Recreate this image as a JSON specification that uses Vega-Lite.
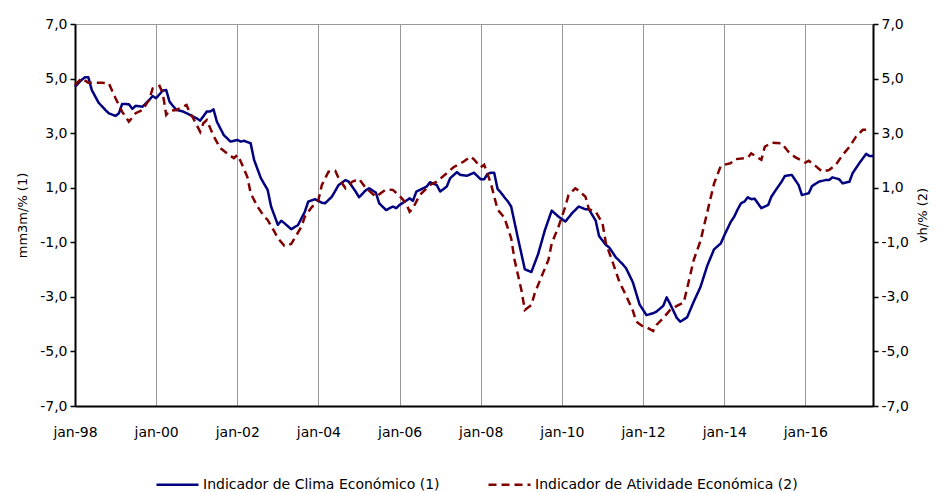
{
  "$schema": "https://vega.github.io/schema/vega-lite/v6.json",
  "width": 798,
  "height": 382,
  "autosize": {"type": "none"},
  "padding": {"left": 75, "top": 24, "right": 67, "bottom": 86},
  "background": "white",
  "title": {"text": "Indicadores de Síntese Económica", "anchor": "middle", "offset": 20, "baseline": "alphabetic", "fontSize": 17, "fontWeight": "bold", "color": "#3333cc", "font": "DejaVu Sans", "dx": 15},
  "config": {
    "view": {"stroke": "#999999", "strokeWidth": 1},
    "font": "DejaVu Sans",
    "axis": {"labelFont": "DejaVu Sans", "titleFont": "DejaVu Sans", "labelColor": "#000", "titleColor": "#000"}
  },
  "datasets": {
    "clima": [
      {"d": "1998-01", "v": 4.70}, {"d": "1998-03", "v": 4.95}, {"d": "1998-04", "v": 5.05}, {"d": "1998-05", "v": 5.05},
      {"d": "1998-06", "v": 4.58}, {"d": "1998-08", "v": 4.12}, {"d": "1998-10", "v": 3.85}, {"d": "1998-11", "v": 3.73},
      {"d": "1999-01", "v": 3.63}, {"d": "1999-02", "v": 3.73}, {"d": "1999-03", "v": 4.07}, {"d": "1999-05", "v": 4.06},
      {"d": "1999-06", "v": 3.89}, {"d": "1999-07", "v": 4.00}, {"d": "1999-09", "v": 3.97}, {"d": "1999-11", "v": 4.22},
      {"d": "1999-12", "v": 4.36}, {"d": "2000-01", "v": 4.28}, {"d": "2000-03", "v": 4.56}, {"d": "2000-04", "v": 4.58},
      {"d": "2000-05", "v": 4.15}, {"d": "2000-07", "v": 3.85}, {"d": "2000-09", "v": 3.79}, {"d": "2000-11", "v": 3.67},
      {"d": "2001-01", "v": 3.54}, {"d": "2001-02", "v": 3.46}, {"d": "2001-04", "v": 3.79}, {"d": "2001-05", "v": 3.79},
      {"d": "2001-06", "v": 3.87}, {"d": "2001-07", "v": 3.42}, {"d": "2001-09", "v": 2.93}, {"d": "2001-11", "v": 2.69},
      {"d": "2002-01", "v": 2.75}, {"d": "2002-02", "v": 2.69}, {"d": "2002-03", "v": 2.72}, {"d": "2002-05", "v": 2.63},
      {"d": "2002-06", "v": 2.02}, {"d": "2002-08", "v": 1.35}, {"d": "2002-10", "v": 0.92}, {"d": "2002-11", "v": 0.31},
      {"d": "2003-01", "v": -0.36}, {"d": "2003-02", "v": -0.21}, {"d": "2003-03", "v": -0.30}, {"d": "2003-05", "v": -0.52},
      {"d": "2003-07", "v": -0.37}, {"d": "2003-09", "v": 0.12}, {"d": "2003-10", "v": 0.49}, {"d": "2003-12", "v": 0.58},
      {"d": "2004-02", "v": 0.45}, {"d": "2004-03", "v": 0.43}, {"d": "2004-05", "v": 0.67}, {"d": "2004-07", "v": 1.10},
      {"d": "2004-09", "v": 1.28}, {"d": "2004-10", "v": 1.22}, {"d": "2004-12", "v": 0.86}, {"d": "2005-01", "v": 0.65},
      {"d": "2005-03", "v": 0.90}, {"d": "2005-04", "v": 0.98}, {"d": "2005-06", "v": 0.82}, {"d": "2005-07", "v": 0.43},
      {"d": "2005-09", "v": 0.18}, {"d": "2005-11", "v": 0.31}, {"d": "2005-12", "v": 0.25}, {"d": "2006-01", "v": 0.37},
      {"d": "2006-03", "v": 0.52}, {"d": "2006-04", "v": 0.61}, {"d": "2006-05", "v": 0.52}, {"d": "2006-06", "v": 0.86},
      {"d": "2006-09", "v": 1.04}, {"d": "2006-10", "v": 1.20}, {"d": "2006-12", "v": 1.10}, {"d": "2007-01", "v": 0.86},
      {"d": "2007-03", "v": 1.04}, {"d": "2007-04", "v": 1.35}, {"d": "2007-06", "v": 1.57}, {"d": "2007-07", "v": 1.47},
      {"d": "2007-09", "v": 1.44}, {"d": "2007-11", "v": 1.55}, {"d": "2007-12", "v": 1.43}, {"d": "2008-01", "v": 1.31},
      {"d": "2008-02", "v": 1.31}, {"d": "2008-03", "v": 1.50}, {"d": "2008-04", "v": 1.55}, {"d": "2008-05", "v": 1.55},
      {"d": "2008-06", "v": 0.95}, {"d": "2008-07", "v": 0.82}, {"d": "2008-08", "v": 0.65}, {"d": "2008-09", "v": 0.50},
      {"d": "2008-10", "v": 0.31}, {"d": "2008-12", "v": -0.85}, {"d": "2009-02", "v": -1.99}, {"d": "2009-04", "v": -2.09},
      {"d": "2009-06", "v": -1.43}, {"d": "2009-08", "v": -0.55}, {"d": "2009-10", "v": 0.16}, {"d": "2009-12", "v": -0.06},
      {"d": "2010-02", "v": -0.24}, {"d": "2010-04", "v": 0.06}, {"d": "2010-06", "v": 0.31}, {"d": "2010-08", "v": 0.21},
      {"d": "2010-09", "v": 0.21}, {"d": "2010-11", "v": -0.21}, {"d": "2010-12", "v": -0.77}, {"d": "2011-02", "v": -1.10},
      {"d": "2011-03", "v": -1.18}, {"d": "2011-05", "v": -1.55}, {"d": "2011-07", "v": -1.80}, {"d": "2011-08", "v": -1.95},
      {"d": "2011-10", "v": -2.46}, {"d": "2011-12", "v": -3.28}, {"d": "2012-02", "v": -3.67}, {"d": "2012-04", "v": -3.60},
      {"d": "2012-05", "v": -3.54}, {"d": "2012-07", "v": -3.33}, {"d": "2012-08", "v": -3.02}, {"d": "2012-09", "v": -3.26},
      {"d": "2012-11", "v": -3.78}, {"d": "2012-12", "v": -3.91}, {"d": "2013-02", "v": -3.75}, {"d": "2013-04", "v": -3.18},
      {"d": "2013-06", "v": -2.64}, {"d": "2013-08", "v": -1.86}, {"d": "2013-10", "v": -1.26}, {"d": "2013-12", "v": -1.04},
      {"d": "2014-01", "v": -0.75}, {"d": "2014-03", "v": -0.25}, {"d": "2014-04", "v": -0.06}, {"d": "2014-05", "v": 0.20},
      {"d": "2014-06", "v": 0.43}, {"d": "2014-07", "v": 0.49}, {"d": "2014-08", "v": 0.65}, {"d": "2014-09", "v": 0.58},
      {"d": "2014-10", "v": 0.60}, {"d": "2014-12", "v": 0.25}, {"d": "2015-02", "v": 0.37}, {"d": "2015-03", "v": 0.67},
      {"d": "2015-04", "v": 0.86}, {"d": "2015-06", "v": 1.22}, {"d": "2015-07", "v": 1.43}, {"d": "2015-09", "v": 1.47},
      {"d": "2015-11", "v": 1.10}, {"d": "2015-12", "v": 0.73}, {"d": "2016-02", "v": 0.80}, {"d": "2016-03", "v": 1.06},
      {"d": "2016-05", "v": 1.22}, {"d": "2016-07", "v": 1.28}, {"d": "2016-08", "v": 1.28}, {"d": "2016-09", "v": 1.38},
      {"d": "2016-11", "v": 1.31}, {"d": "2016-12", "v": 1.16}, {"d": "2017-02", "v": 1.22}, {"d": "2017-03", "v": 1.53},
      {"d": "2017-05", "v": 1.90}, {"d": "2017-07", "v": 2.24}, {"d": "2017-08", "v": 2.16}, {"d": "2017-09", "v": 2.16}
    ],
    "atividade": [
      {"d": "1998-01", "v": 4.76}, {"d": "1998-03", "v": 5.01}, {"d": "1998-05", "v": 4.85}, {"d": "1998-09", "v": 4.85},
      {"d": "1998-11", "v": 4.83}, {"d": "1999-01", "v": 4.28}, {"d": "1999-03", "v": 3.79}, {"d": "1999-05", "v": 3.42},
      {"d": "1999-07", "v": 3.73}, {"d": "1999-09", "v": 3.85}, {"d": "1999-11", "v": 4.24}, {"d": "1999-12", "v": 4.64},
      {"d": "2000-02", "v": 4.73}, {"d": "2000-03", "v": 4.46}, {"d": "2000-04", "v": 3.67}, {"d": "2000-05", "v": 3.82},
      {"d": "2000-07", "v": 3.85}, {"d": "2000-09", "v": 3.97}, {"d": "2000-10", "v": 4.03}, {"d": "2000-11", "v": 3.73},
      {"d": "2000-12", "v": 3.54}, {"d": "2001-02", "v": 3.05}, {"d": "2001-03", "v": 3.36}, {"d": "2001-04", "v": 3.48},
      {"d": "2001-06", "v": 2.90}, {"d": "2001-08", "v": 2.45}, {"d": "2001-10", "v": 2.26}, {"d": "2001-12", "v": 2.08},
      {"d": "2002-01", "v": 2.20}, {"d": "2002-02", "v": 1.96}, {"d": "2002-04", "v": 1.40}, {"d": "2002-05", "v": 0.80},
      {"d": "2002-07", "v": 0.31}, {"d": "2002-09", "v": -0.06}, {"d": "2002-10", "v": -0.18}, {"d": "2002-12", "v": -0.61},
      {"d": "2003-01", "v": -0.85}, {"d": "2003-03", "v": -1.13}, {"d": "2003-05", "v": -1.06}, {"d": "2003-06", "v": -0.85},
      {"d": "2003-08", "v": -0.43}, {"d": "2003-09", "v": -0.06}, {"d": "2003-11", "v": 0.28}, {"d": "2004-01", "v": 0.55},
      {"d": "2004-02", "v": 1.10}, {"d": "2004-04", "v": 1.59}, {"d": "2004-06", "v": 1.62}, {"d": "2004-07", "v": 1.35},
      {"d": "2004-09", "v": 0.98}, {"d": "2004-11", "v": 1.22}, {"d": "2005-01", "v": 1.32}, {"d": "2005-03", "v": 1.00},
      {"d": "2005-06", "v": 0.67}, {"d": "2005-09", "v": 0.94}, {"d": "2005-11", "v": 0.92}, {"d": "2006-01", "v": 0.70},
      {"d": "2006-03", "v": 0.43}, {"d": "2006-04", "v": 0.12}, {"d": "2006-05", "v": 0.25}, {"d": "2006-07", "v": 0.73},
      {"d": "2006-10", "v": 1.10}, {"d": "2006-12", "v": 1.22}, {"d": "2007-03", "v": 1.53}, {"d": "2007-05", "v": 1.75},
      {"d": "2007-08", "v": 1.96}, {"d": "2007-10", "v": 2.14}, {"d": "2007-11", "v": 2.04}, {"d": "2008-01", "v": 1.75},
      {"d": "2008-02", "v": 1.84}, {"d": "2008-04", "v": 1.16}, {"d": "2008-06", "v": 0.20}, {"d": "2008-08", "v": -0.10},
      {"d": "2008-10", "v": -0.85}, {"d": "2008-11", "v": -1.65}, {"d": "2009-01", "v": -2.75}, {"d": "2009-02", "v": -3.48},
      {"d": "2009-04", "v": -3.30}, {"d": "2009-05", "v": -2.87}, {"d": "2009-07", "v": -2.26}, {"d": "2009-09", "v": -1.65},
      {"d": "2009-10", "v": -1.04}, {"d": "2009-12", "v": -0.43}, {"d": "2010-02", "v": 0.31}, {"d": "2010-03", "v": 0.73},
      {"d": "2010-05", "v": 0.98}, {"d": "2010-06", "v": 0.89}, {"d": "2010-08", "v": 0.67}, {"d": "2010-09", "v": 0.21},
      {"d": "2010-11", "v": 0.12}, {"d": "2011-01", "v": -0.30}, {"d": "2011-02", "v": -1.04}, {"d": "2011-04", "v": -1.71},
      {"d": "2011-06", "v": -2.44}, {"d": "2011-08", "v": -2.95}, {"d": "2011-10", "v": -3.50}, {"d": "2011-11", "v": -3.91},
      {"d": "2012-01", "v": -4.09}, {"d": "2012-02", "v": -4.11}, {"d": "2012-04", "v": -4.25}, {"d": "2012-05", "v": -4.03},
      {"d": "2012-07", "v": -3.78}, {"d": "2012-09", "v": -3.48}, {"d": "2012-11", "v": -3.33}, {"d": "2013-01", "v": -3.21},
      {"d": "2013-02", "v": -2.69}, {"d": "2013-04", "v": -1.65}, {"d": "2013-06", "v": -0.95}, {"d": "2013-08", "v": 0.10},
      {"d": "2013-10", "v": 1.15}, {"d": "2013-12", "v": 1.80}, {"d": "2014-01", "v": 1.84}, {"d": "2014-03", "v": 1.90},
      {"d": "2014-04", "v": 2.04}, {"d": "2014-08", "v": 2.10}, {"d": "2014-09", "v": 2.26}, {"d": "2014-12", "v": 2.02},
      {"d": "2015-01", "v": 2.50}, {"d": "2015-03", "v": 2.65}, {"d": "2015-06", "v": 2.63}, {"d": "2015-08", "v": 2.32},
      {"d": "2015-10", "v": 2.12}, {"d": "2016-01", "v": 1.92}, {"d": "2016-02", "v": 1.99}, {"d": "2016-04", "v": 1.80},
      {"d": "2016-06", "v": 1.59}, {"d": "2016-08", "v": 1.65}, {"d": "2016-10", "v": 1.84}, {"d": "2016-12", "v": 2.20},
      {"d": "2017-02", "v": 2.50}, {"d": "2017-04", "v": 2.87}, {"d": "2017-06", "v": 3.12}, {"d": "2017-07", "v": 3.12}
    ]
  },
  "layer": [
    {
      "data": {"name": "clima"},
      "mark": {"type": "line", "strokeWidth": 2.5, "strokeJoin": "round"},
      "encoding": {
        "x": {
          "field": "d", "type": "temporal",
          "scale": {"type": "utc", "domain": [{"year": 1998, "month": 1, "date": 1, "utc": true}, {"year": 2017, "month": 9, "date": 1, "utc": true}]},
          "axis": {
            "title": null,
            "values": [
              {"year": 1998, "month": 1, "date": 1, "utc": true}, {"year": 2000, "month": 1, "date": 1, "utc": true},
              {"year": 2002, "month": 1, "date": 1, "utc": true}, {"year": 2004, "month": 1, "date": 1, "utc": true},
              {"year": 2006, "month": 1, "date": 1, "utc": true}, {"year": 2008, "month": 1, "date": 1, "utc": true},
              {"year": 2010, "month": 1, "date": 1, "utc": true}, {"year": 2012, "month": 1, "date": 1, "utc": true},
              {"year": 2014, "month": 1, "date": 1, "utc": true}, {"year": 2016, "month": 1, "date": 1, "utc": true}
            ],
            "labelExpr": "'jan-' + utcFormat(datum.value, '%y')",
            "labelOverlap": false,
            "labelFlush": false,
            "grid": true, "gridColor": "#999999", "gridWidth": 1,
            "domainColor": "#000", "domainWidth": 2,
            "ticks": false,
            "labelFontSize": 14, "labelPadding": 19
          }
        },
        "y": {
          "field": "v", "type": "quantitative",
          "scale": {"domain": [-7, 7], "nice": false, "zero": false},
          "axis": {
            "orient": "left",
            "values": [-7, -5, -3, -1, 1, 3, 5, 7],
            "labelExpr": "(datum.value < 0 ? '-' : '') + replace(format(abs(datum.value), '.1f'), '.', ',')",
            "grid": false,
            "domainColor": "#000", "domainWidth": 2,
            "tickColor": "#000", "tickSize": 5, "tickWidth": 1.5,
            "labelFontSize": 14, "labelPadding": 3,
            "title": "mm3m/%  (1)", "titleFontSize": 13, "titleFontWeight": "normal", "titlePadding": 10
          }
        },
        "color": {
          "datum": "Indicador de Clima Económico (1)", "type": "nominal",
          "scale": {"domain": ["Indicador de Clima Económico (1)", "Indicador de Atividade Económica (2)"], "range": ["#000080", "#800000"]},
          "legend": {
            "title": null, "orient": "none", "legendX": 80, "legendY": 438, "direction": "horizontal",
            "symbolType": "stroke", "symbolSize": 1764, "symbolStrokeWidth": 2.5,
            "labelFontSize": 14, "labelFont": "DejaVu Sans", "labelColor": "#000", "labelOffset": 3,
            "columnPadding": 43, "padding": 0, "labelLimit": 400
          }
        },
        "strokeDash": {
          "datum": "Indicador de Clima Económico (1)", "type": "nominal",
          "scale": {"domain": ["Indicador de Clima Económico (1)", "Indicador de Atividade Económica (2)"], "range": [[1, 0], [8, 5]]},
          "legend": {
            "title": null, "orient": "none", "legendX": 80, "legendY": 438, "direction": "horizontal",
            "symbolType": "stroke", "symbolSize": 1764, "symbolStrokeWidth": 2.5,
            "labelFontSize": 14, "labelFont": "DejaVu Sans", "labelColor": "#000", "labelOffset": 3,
            "columnPadding": 43, "padding": 0, "labelLimit": 400
          }
        }
      }
    },
    {
      "data": {"name": "atividade"},
      "mark": {"type": "line", "strokeWidth": 2.5},
      "encoding": {
        "x": {"field": "d", "type": "temporal"},
        "y": {
          "field": "v", "type": "quantitative",
          "scale": {"domain": [-7, 7], "nice": false, "zero": false},
          "axis": {
            "orient": "right",
            "values": [-7, -5, -3, -1, 1, 3, 5, 7],
            "labelExpr": "(datum.value < 0 ? '-' : '') + replace(format(abs(datum.value), '.1f'), '.', ',')",
            "grid": false,
            "domainColor": "#000", "domainWidth": 2,
            "tickColor": "#000", "tickSize": 5, "tickWidth": 1.5,
            "labelFontSize": 14, "labelPadding": 3,
            "title": "vh/% (2)", "titleFontSize": 13, "titleFontWeight": "normal", "titlePadding": 21, "titleAngle": -90
          }
        },
        "color": {"datum": "Indicador de Atividade Económica (2)", "type": "nominal"},
        "strokeDash": {"datum": "Indicador de Atividade Económica (2)", "type": "nominal"}
      }
    }
  ],
  "resolve": {"scale": {"y": "independent"}}
}
